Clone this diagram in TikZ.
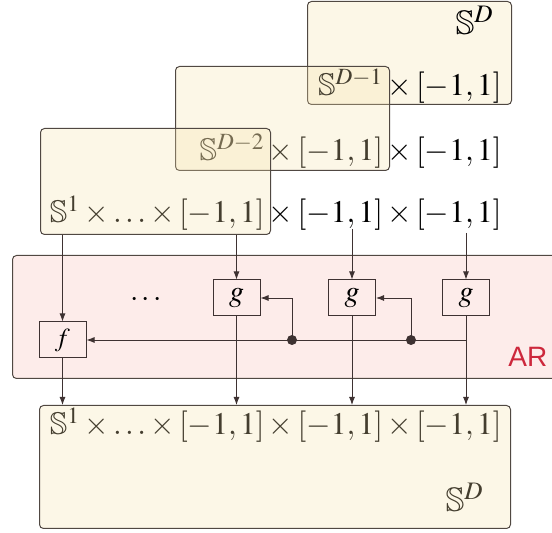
\documentclass[tikz,border=0pt]{standalone}
\usepackage{amssymb}
\usepackage{mathptmx}
\usepackage{fontspec}
\setmainfont{Liberation Serif}
\setsansfont{Liberation Sans}
\usetikzlibrary{arrows.meta}
\definecolor{boxfill}{RGB}{245,225,170}
\definecolor{boxline}{RGB}{80,72,66}
\definecolor{arfill}{RGB}{253,236,234}
\definecolor{wire}{RGB}{62,50,50}
\definecolor{arred}{RGB}{205,40,60}
\tikzset{
  spacebox/.style={draw=boxline, fill=boxfill, fill opacity=0.28, rounded corners=2pt, line width=0.5pt, anchor=north west, inner sep=0pt},
  lbl/.style={inner sep=0pt, anchor=base east, font=\fontsize{15.7}{19}\selectfont},
  fnbox/.style={draw=wire, fill=arfill, line width=0.5pt, minimum width=23.5pt, minimum height=18pt, inner sep=0pt, font=\fontsize{15}{18}\selectfont},
  wirearrow/.style={draw=wire, line width=0.45pt, -{Latex[length=4pt,width=3pt]}},
  junction/.style={circle, fill=wire, inner sep=0pt, minimum size=5pt}
}
\begin{document}
\begin{tikzpicture}[x=0.5pt,y=-0.5pt]
\path[use as bounding box, clip] (0,0) rectangle (552,533);
% stacked input spaces
\node[spacebox, minimum width=102pt, minimum height=51.5pt] (topbox) at (307,1) {};
\node[lbl, font=\fontsize{17}{20}\selectfont] (topS) at (494,35) {$\mathbb{S}^{D}$};
\node[lbl] (row1) at (502,96) {$\mathbb{S}^{D-1}\times[-1,1]$};
\node[lbl] (row2) at (502,161) {$\mathbb{S}^{D-2}\times[-1,1]\times[-1,1]$};
\node[spacebox, minimum width=107pt, minimum height=52pt] (midbox) at (175,66) {};
\node[lbl] (row3) at (502,223) {$\mathbb{S}^{1}\times\ldots\times[-1,1]\times[-1,1]\times[-1,1]$};
\node[spacebox, minimum width=115pt, minimum height=53pt] (lowbox) at (40,128) {};
% AR block
\node[draw=boxline, fill=arfill, rounded corners=2pt, line width=0.5pt, anchor=north west, inner sep=0pt, minimum width=290pt, minimum height=61.5pt] (arbox) at (12,255) {};
\node[anchor=base west, inner sep=0pt, text=arred, font=\sffamily\fontsize{14}{16}\selectfont] (arlbl) at (508,367) {AR};
\node[fnbox] (g1) at (236.5,298) {$g$};
\node[fnbox] (g2) at (352,298) {$g$};
\node[fnbox] (g3) at (466,298) {$g$};
\node[fnbox, font=\fontsize{13}{16}\selectfont] (f) at (62.5,340) {$f$};
\node[inner sep=0pt, font=\fontsize{15}{18}\selectfont] (dots) at (146,300) {$\cdots$};
% output space
\node[lbl] (outrow) at (502,435) {$\mathbb{S}^{1}\times\ldots\times[-1,1]\times[-1,1]\times[-1,1]$};
\node[lbl, font=\fontsize{17}{20}\selectfont] (outS) at (484,512) {$\mathbb{S}^{D}$};
\node[spacebox, minimum width=235.5pt, minimum height=61.5pt] (outbox) at (39,405) {};
% wiring
\coordinate (in3) at (352,229);
\coordinate (in4) at (466,233);
\coordinate (d1) at (292,340);
\coordinate (d2) at (411,340);
\draw[wirearrow] (lowbox.south -| f.north) -- (f.north);
\draw[wirearrow] (lowbox.south -| g1.north) -- (g1.north);
\draw[wirearrow] (in3) -- (g2.north);
\draw[wirearrow] (in4) -- (g3.north);
\draw[wirearrow] (g3.south) |- (f.east);
\draw[wirearrow] (d1) |- (g1.east);
\draw[wirearrow] (d2) |- (g2.east);
\node[junction] (j1) at (d1) {};
\node[junction] (j2) at (d2) {};
\draw[wirearrow] (f.south) -- (f.south |- outbox.north);
\draw[wirearrow] (g1.south) -- (g1.south |- outbox.north);
\draw[wirearrow] (g2.south) -- (g2.south |- outbox.north);
\draw[wirearrow] (g3.south) -- (g3.south |- outbox.north);
\end{tikzpicture}
\end{document}
